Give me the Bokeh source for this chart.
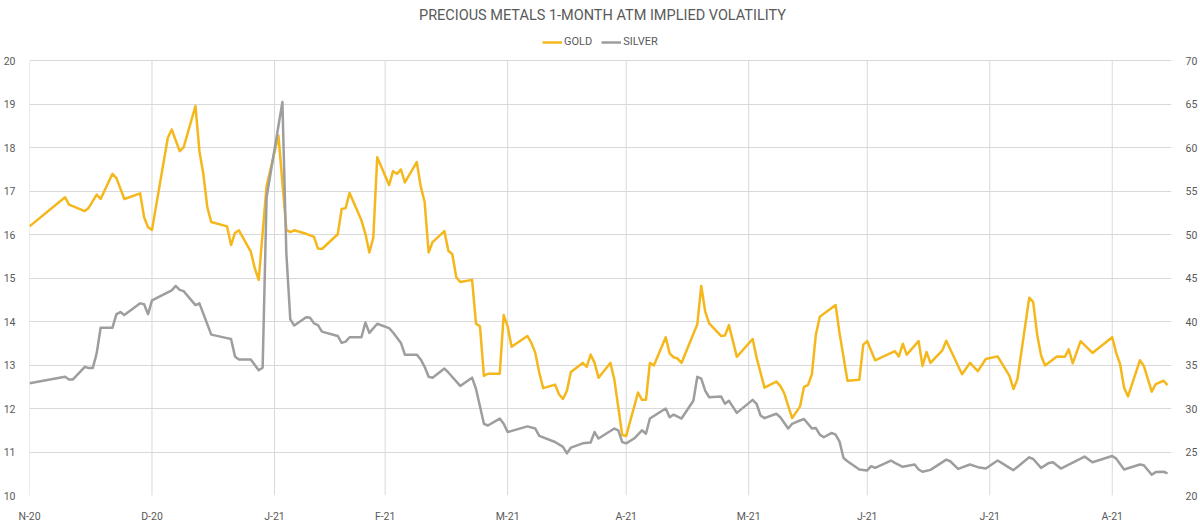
import pandas as pd
from bokeh.plotting import figure
from bokeh.models import (Range1d, LinearAxis, FixedTicker,
                          CustomJSTickFormatter, Legend, LegendItem, Label)
from bokeh.embed import file_html
from bokeh.resources import INLINE

TITLE = "PRECIOUS METALS 1-MONTH ATM IMPLIED VOLATILITY"

# Gold 1M ATM implied vol (left axis)
gold_dates = [
    "2020-11-30", "2020-12-09", "2020-12-10", "2020-12-14", "2020-12-15", "2020-12-17", "2020-12-18",
    "2020-12-21", "2020-12-22", "2020-12-24", "2020-12-28", "2020-12-29", "2020-12-30", "2020-12-31",
    "2021-01-04", "2021-01-05", "2021-01-07", "2021-01-08", "2021-01-11", "2021-01-12", "2021-01-13",
    "2021-01-14", "2021-01-15", "2021-01-19", "2021-01-20", "2021-01-21", "2021-01-22", "2021-01-25",
    "2021-01-26", "2021-01-27", "2021-01-29", "2021-02-01", "2021-02-03", "2021-02-04", "2021-02-05",
    "2021-02-08", "2021-02-10", "2021-02-11", "2021-02-12", "2021-02-16", "2021-02-17", "2021-02-18",
    "2021-02-19", "2021-02-22", "2021-02-23", "2021-02-24", "2021-02-25", "2021-02-26", "2021-03-01",
    "2021-03-02", "2021-03-03", "2021-03-04", "2021-03-05", "2021-03-08", "2021-03-09", "2021-03-10",
    "2021-03-11", "2021-03-12", "2021-03-15", "2021-03-16", "2021-03-17", "2021-03-18", "2021-03-19",
    "2021-03-22", "2021-03-23", "2021-03-24", "2021-03-25", "2021-03-26", "2021-03-29", "2021-03-30",
    "2021-03-31", "2021-04-01", "2021-04-05", "2021-04-06", "2021-04-07", "2021-04-08", "2021-04-09",
    "2021-04-12", "2021-04-13", "2021-04-14", "2021-04-15", "2021-04-16", "2021-04-19", "2021-04-20",
    "2021-04-21", "2021-04-22", "2021-04-23", "2021-04-26", "2021-04-27", "2021-04-28", "2021-04-29",
    "2021-04-30", "2021-05-03", "2021-05-04", "2021-05-05", "2021-05-06", "2021-05-07", "2021-05-10",
    "2021-05-11", "2021-05-12", "2021-05-13", "2021-05-14", "2021-05-18", "2021-05-19", "2021-05-20",
    "2021-05-21", "2021-05-24", "2021-05-25", "2021-05-26", "2021-05-28", "2021-06-01", "2021-06-02",
    "2021-06-04", "2021-06-07", "2021-06-08", "2021-06-09", "2021-06-11", "2021-06-13", "2021-06-14",
    "2021-06-15", "2021-06-16", "2021-06-17", "2021-06-18", "2021-06-22", "2021-06-23", "2021-06-25",
    "2021-06-28", "2021-06-29", "2021-06-30", "2021-07-02", "2021-07-07", "2021-07-08", "2021-07-09",
    "2021-07-10", "2021-07-13", "2021-07-14", "2021-07-15", "2021-07-16", "2021-07-19", "2021-07-20",
    "2021-07-23", "2021-07-24", "2021-07-26", "2021-07-28", "2021-07-30", "2021-08-02", "2021-08-04",
    "2021-08-05", "2021-08-06", "2021-08-07", "2021-08-10", "2021-08-11", "2021-08-12", "2021-08-13",
    "2021-08-14", "2021-08-17", "2021-08-19", "2021-08-20", "2021-08-21", "2021-08-23", "2021-08-26",
    "2021-08-31", "2021-09-01", "2021-09-02", "2021-09-03", "2021-09-04", "2021-09-07", "2021-09-08",
    "2021-09-10", "2021-09-11", "2021-09-13", "2021-09-14",
]
gold_vol = [
    16.19, 16.86, 16.69, 16.54, 16.62, 16.92, 16.82,
    17.40, 17.30, 16.82, 16.95, 16.40, 16.17, 16.11,
    18.23, 18.42, 17.92, 18.01, 18.96, 17.92, 17.39,
    16.63, 16.29, 16.19, 15.76, 16.04, 16.10, 15.61,
    15.23, 14.96, 17.12, 18.28, 16.11, 16.06, 16.10,
    16.02, 15.95, 15.68, 15.67, 16.01, 16.59, 16.61,
    16.96, 16.33, 16.02, 15.59, 15.93, 17.78, 17.14,
    17.46, 17.40, 17.50, 17.20, 17.67, 17.11, 16.75,
    15.59, 15.83, 16.08, 15.63, 15.55, 15.02, 14.91,
    14.96, 13.95, 13.89, 12.75, 12.80, 12.80, 14.15,
    13.89, 13.42, 13.67, 13.51, 13.28, 12.83, 12.47,
    12.55, 12.33, 12.22, 12.41, 12.84, 13.05, 12.96,
    13.24, 13.05, 12.71, 13.05, 12.67, 12.03, 11.39,
    11.37, 12.37, 12.20, 12.20, 13.05, 12.99, 13.64,
    13.27, 13.18, 13.15, 13.05, 13.94, 14.82, 14.23,
    13.96, 13.67, 13.68, 13.92, 13.19, 13.60, 13.17,
    12.48, 12.62, 12.52, 12.35, 11.78, 12.05, 12.50,
    12.54, 12.79, 13.70, 14.11, 14.38, 13.73, 12.64,
    12.66, 13.47, 13.55, 13.11, 13.32, 13.20, 13.49,
    13.24, 13.55, 12.98, 13.30, 13.05, 13.34, 13.56,
    12.98, 12.79, 13.05, 12.86, 13.14, 13.20, 12.90,
    12.75, 12.45, 12.67, 14.55, 14.45, 13.70, 13.22,
    12.99, 13.20, 13.19, 13.36, 13.04, 13.55, 13.28,
    13.64, 13.28, 13.02, 12.48, 12.28, 13.11, 12.98,
    12.39, 12.56, 12.64, 12.54,
]

# Silver 1M ATM implied vol (right axis)
silver_dates = [
    "2020-11-30", "2020-12-09", "2020-12-10", "2020-12-11", "2020-12-14", "2020-12-15", "2020-12-16",
    "2020-12-17", "2020-12-18", "2020-12-21", "2020-12-22", "2020-12-23", "2020-12-24", "2020-12-28",
    "2020-12-29", "2020-12-30", "2020-12-31", "2021-01-05", "2021-01-06", "2021-01-07", "2021-01-08",
    "2021-01-11", "2021-01-12", "2021-01-15", "2021-01-19", "2021-01-20", "2021-01-21", "2021-01-22",
    "2021-01-25", "2021-01-27", "2021-01-28", "2021-01-29", "2021-02-02", "2021-02-03", "2021-02-04",
    "2021-02-05", "2021-02-08", "2021-02-09", "2021-02-10", "2021-02-11", "2021-02-12", "2021-02-16",
    "2021-02-17", "2021-02-18", "2021-02-19", "2021-02-22", "2021-02-23", "2021-02-24", "2021-02-26",
    "2021-03-01", "2021-03-02", "2021-03-04", "2021-03-05", "2021-03-08", "2021-03-09", "2021-03-10",
    "2021-03-11", "2021-03-12", "2021-03-15", "2021-03-16", "2021-03-19", "2021-03-22", "2021-03-23",
    "2021-03-25", "2021-03-26", "2021-03-29", "2021-03-30", "2021-03-31", "2021-04-05", "2021-04-07",
    "2021-04-08", "2021-04-12", "2021-04-14", "2021-04-15", "2021-04-16", "2021-04-19", "2021-04-21",
    "2021-04-22", "2021-04-23", "2021-04-27", "2021-04-28", "2021-04-29", "2021-04-30", "2021-05-02",
    "2021-05-04", "2021-05-05", "2021-05-06", "2021-05-10", "2021-05-11", "2021-05-12", "2021-05-14",
    "2021-05-17", "2021-05-18", "2021-05-19", "2021-05-20", "2021-05-21", "2021-05-24", "2021-05-25",
    "2021-05-26", "2021-05-28", "2021-06-01", "2021-06-02", "2021-06-03", "2021-06-04", "2021-06-07",
    "2021-06-08", "2021-06-10", "2021-06-11", "2021-06-12", "2021-06-14", "2021-06-16", "2021-06-17",
    "2021-06-18", "2021-06-19", "2021-06-21", "2021-06-22", "2021-06-23", "2021-06-24", "2021-06-25",
    "2021-06-28", "2021-06-30", "2021-07-01", "2021-07-02", "2021-07-06", "2021-07-07", "2021-07-09",
    "2021-07-12", "2021-07-13", "2021-07-14", "2021-07-16", "2021-07-20", "2021-07-21", "2021-07-23",
    "2021-07-26", "2021-07-28", "2021-07-30", "2021-08-02", "2021-08-03", "2021-08-05", "2021-08-06",
    "2021-08-10", "2021-08-11", "2021-08-13", "2021-08-15", "2021-08-16", "2021-08-18", "2021-08-24",
    "2021-08-26", "2021-08-31", "2021-09-01", "2021-09-03", "2021-09-07", "2021-09-08", "2021-09-10",
    "2021-09-11", "2021-09-13", "2021-09-14",
]
silver_vol = [
    32.9, 33.65, 33.35, 33.35, 34.8, 34.65, 34.65,
    36.35, 39.3, 39.3, 40.85, 41.1, 40.75, 42.1,
    42.0, 40.85, 42.45, 43.6, 44.1, 43.65, 43.5,
    41.9, 42.1, 38.5, 38.1, 38.0, 36.0, 35.65,
    35.65, 34.4, 34.7, 54.3, 65.25, 47.85, 40.25,
    39.55, 40.5, 40.45, 39.8, 39.6, 38.85, 38.35,
    37.55, 37.7, 38.2, 38.2, 39.9, 38.7, 39.75,
    39.25, 38.75, 37.55, 36.2, 36.2, 35.65, 34.8,
    33.65, 33.55, 34.6, 34.15, 32.6, 33.55, 32.25,
    28.25, 28.05, 28.85, 28.25, 27.3, 27.95, 27.7,
    26.85, 26.15, 25.6, 24.85, 25.5, 26.0, 26.1,
    27.3, 26.55, 27.7, 27.5, 26.15, 26.0, 26.55,
    27.5, 27.1, 28.85, 30.0, 29.0, 29.3, 28.85,
    30.9, 33.65, 33.45, 32.05, 31.3, 31.4, 30.55,
    30.9, 29.5, 31.0, 30.55, 29.2, 28.9, 29.4,
    29.0, 27.7, 28.25, 28.45, 28.8, 27.7, 27.75,
    27.0, 26.7, 27.2, 27.0, 26.2, 24.32, 23.94,
    23.0, 22.88, 23.37, 23.18, 24.02, 23.75, 23.3,
    23.56, 22.99, 22.73, 22.95, 24.13, 23.94, 23.07,
    23.56, 23.26, 23.1, 24.02, 23.75, 23.18, 22.92,
    24.39, 24.2, 23.18, 23.75, 23.83, 23.1, 24.47,
    23.83, 24.55, 24.24, 22.99, 23.56, 23.48, 22.39,
    22.69, 22.73, 22.54,
]

# Month-end tick dates on the time axis
tick_dates = ["2020-11-30", "2020-12-31", "2021-01-31", "2021-02-28", "2021-03-31",
              "2021-04-30", "2021-05-31", "2021-06-30", "2021-07-31", "2021-08-31"]
gold_ticks = list(range(10, 21))
silver_ticks = list(range(20, 71, 5))

GOLD_COLOR = "#F5B81C"
SILVER_COLOR = "#9E9E9E"
GRID_COLOR = "#D9D9D9"
TEXT_COLOR = "#595959"
FONT = "Roboto"

W, H = 1200, 525
LEFT, RIGHT, BOTTOM = 25, 25, 24
PLOT_TOP_PX = 61                      # pixel row of the top gridline
frame_h = H - BOTTOM                  # frame reaches the top edge so header texts fit inside it
px_per_gold = (frame_h - PLOT_TOP_PX) / (gold_ticks[-1] - gold_ticks[0])
px_per_silver = (frame_h - PLOT_TOP_PX) / (silver_ticks[-1] - silver_ticks[0])

gx = pd.to_datetime(gold_dates)
sx = pd.to_datetime(silver_dates)
tx = pd.to_datetime(tick_dates)
tick_ms = [float(t.value // 10**6) for t in tx]

p = figure(width=W, height=H, x_axis_type="datetime",
           x_range=Range1d(pd.Timestamp("2020-11-30"), pd.Timestamp("2021-09-15")),
           y_range=Range1d(gold_ticks[0], gold_ticks[0] + frame_h / px_per_gold),
           output_backend="svg", toolbar_location=None)
p.extra_y_ranges = {"silver": Range1d(silver_ticks[0], silver_ticks[0] + frame_h / px_per_silver)}

p.min_border_left = LEFT
p.min_border_right = RIGHT
p.min_border_top = 0
p.min_border_bottom = BOTTOM
p.outline_line_color = None
p.background_fill_color = "white"
p.border_fill_color = "white"

# x axis: month-end ticks labelled as initial + two-digit year
xa = p.xaxis[0]
xa.ticker = FixedTicker(ticks=tick_ms)
xa.formatter = CustomJSTickFormatter(code="""
    const d = new Date(tick);
    const m = "JFMAMJJASOND"[d.getUTCMonth()];
    const y = String(d.getUTCFullYear()).slice(2);
    return m + "-" + y;
""")

ya = p.yaxis[0]
ya.ticker = FixedTicker(ticks=gold_ticks)

ra = LinearAxis(y_range_name="silver", ticker=FixedTicker(ticks=silver_ticks))
p.add_layout(ra, "right")

for ax in (xa, ya, ra):
    ax.axis_line_color = None
    ax.major_tick_line_color = None
    ax.minor_tick_line_color = None
    ax.major_label_text_font = FONT
    ax.major_label_text_font_size = "10.5px"
    ax.major_label_text_color = TEXT_COLOR
    ax.major_label_standoff = 8

# horizontal grid from the axis ticks; vertical grid drawn only over the value span
p.xgrid.grid_line_color = None
p.ygrid.grid_line_color = GRID_COLOR
p.ygrid.grid_line_width = 1
p.segment(x0=tx, y0=[gold_ticks[0]] * len(tx), x1=tx, y1=[gold_ticks[-1]] * len(tx),
          line_color=GRID_COLOR, line_width=1)

r_gold = p.line(gx, gold_vol, line_color=GOLD_COLOR, line_width=2.5, line_join="round")
r_silver = p.line(sx, silver_vol, line_color=SILVER_COLOR, line_width=2.5,
                  line_join="round", y_range_name="silver")

legend = Legend(items=[LegendItem(label="GOLD", renderers=[r_gold]),
                       LegendItem(label="SILVER", renderers=[r_silver])],
                location=(513, frame_h - 54), orientation="horizontal",
                glyph_width=20, glyph_height=12, label_height=12,
                label_standoff=2, spacing=9, padding=0, margin=0,
                border_line_color=None, background_fill_alpha=0,
                label_text_font=FONT, label_text_font_size="11px",
                label_text_color=TEXT_COLOR)
p.add_layout(legend)

p.add_layout(Label(x=W / 2 - LEFT - 2, y=frame_h - 21, x_units="screen", y_units="screen",
                   text=TITLE, text_align="center", text_baseline="middle",
                   text_font=FONT, text_font_size="14.5px", text_color=TEXT_COLOR))

open("out.html", "w").write(file_html(p, INLINE))
